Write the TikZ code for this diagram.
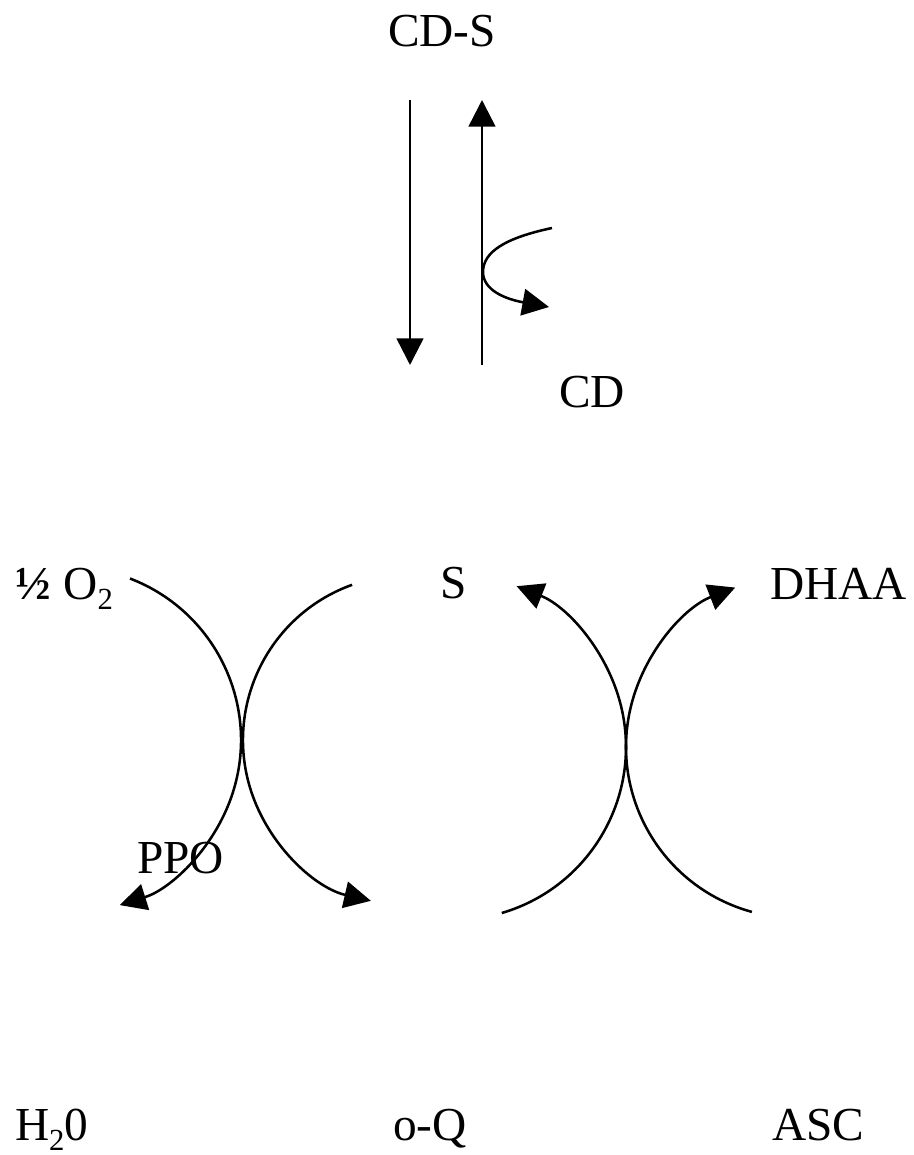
\documentclass[tikz,border=0pt]{standalone}
\usepackage{fontspec}
\setmainfont{Liberation Serif}
\usetikzlibrary{arrows.meta}
\newcommand{\chemsub}[1]{\raisebox{-0.22em}{\fontsize{23}{23}\selectfont #1}}
\begin{document}
\begin{tikzpicture}[x=0.75pt,y=-0.75pt,
  lbl/.style={anchor=base west,inner sep=0pt,outer sep=0pt,font=\fontsize{35.5}{40}\selectfont},
  ln/.style={line width=1.9pt},
  arr/.style={ln,-{Triangle[length=20pt,width=20pt]}}]
\path[fill=white] (0,0) rectangle (913,1155);
% labels
\node[lbl] (cds) at (388,47) {CD-S};
\node[lbl] (cd) at (559,407) {CD};
\node[lbl] (o2) at (16,599) {\textbf{½} O\chemsub{2}};
\node[lbl] (s) at (440,598) {S};
\node[lbl] (dhaa) at (770,599) {DHAA};
\node[lbl] (ppo) at (137,873) {PPO};
\node[lbl] (h2o) at (15,1140) {H\chemsub{2}0};
\node[lbl] (oq) at (393,1140) {o-Q};
\node[lbl] (asc) at (772,1140) {ASC};
% top equilibrium arrows
\coordinate (dtop) at (410,100);
\coordinate (dbot) at (410,365);
\coordinate (ubot) at (482,365);
\coordinate (utop) at (482,100);
\draw[arr] (dtop) -- (dbot);
\draw[arr] (ubot) -- (utop);
\coordinate (cs) at (552,228);
\coordinate (cv) at (483,272);
\coordinate (ce) at (549,307);
\draw[arr] (cs) .. controls (505,238) and (483,252) .. (cv)
  .. controls (483,290) and (505,299) .. (ce);
% left crossing arcs
\coordinate (a1) at (130.0,578.5);
\draw[arr] (a1) arc[start angle=-69,end angle=72.6,radius=173];
\coordinate (a2) at (352.1,584.8);
\draw[arr] (a2) arc[start angle=250.2,end angle=103,radius=165];
% right crossing arcs
\coordinate (a3) at (501.8,913.0);
\draw[arr] (a3) arc[start angle=73.6,end angle=-68.4,radius=173];
\coordinate (a4) at (751.9,911.9);
\draw[arr] (a4) arc[start angle=105.3,end angle=248.8,radius=171];
\end{tikzpicture}
\end{document}
